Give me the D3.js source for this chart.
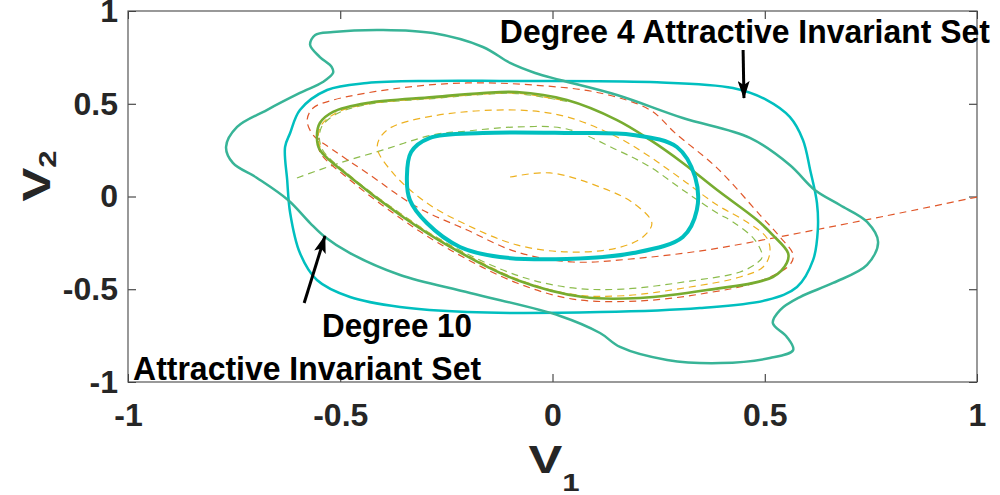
<!DOCTYPE html>
<html>
<head>
<meta charset="utf-8">
<script src="https://cdn.jsdelivr.net/npm/d3@7"></script>
<style>
  html, body { margin: 0; padding: 0; background: #fff; }
  svg { display: block; }
  text { font-family: "Liberation Sans", Arial, sans-serif; font-weight: bold; }
</style>
</head>
<body>
<div id="chart"></div>
<script>
"use strict"

// ticks
var xTicks = [-1, -0.5, 0, 0.5, 1];
var yTicks = [-1, -0.5, 0, 0.5, 1];

// degree 10 attractive invariant set (closed)
var deg10Set = [
  [-0.571, 0.817], [-0.559, 0.871], [-0.517, 0.887], [-0.399, 0.898], [-0.282, 0.881],
  [-0.164, 0.806], [-0.100, 0.720], [-0.041, 0.666], [0.018, 0.628], [0.152, 0.547],
  [0.307, 0.423], [0.465, 0.316], [0.559, 0.170], [0.618, 0.035], [0.677, -0.046],
  [0.741, -0.137], [0.767, -0.245], [0.741, -0.369], [0.661, -0.466], [0.583, -0.542],
  [0.536, -0.612], [0.519, -0.682], [0.552, -0.757], [0.567, -0.827], [0.512, -0.871],
  [0.395, -0.898], [0.270, -0.881], [0.159, -0.811], [0.112, -0.736], [0.018, -0.644],
  [-0.194, -0.520], [-0.359, -0.423], [-0.477, -0.305], [-0.536, -0.218], [-0.571, -0.143],
  [-0.623, -0.019], [-0.696, 0.100], [-0.753, 0.181], [-0.769, 0.267], [-0.743, 0.375],
  [-0.673, 0.466], [-0.595, 0.558], [-0.541, 0.617], [-0.517, 0.666], [-0.520, 0.698],
  [-0.548, 0.752]
];

// degree 4 attractive invariant set (closed)
var deg4Set = [
  [-0.630, 0.267], [-0.618, 0.342], [-0.595, 0.466], [-0.531, 0.574], [-0.437, 0.612],
  [-0.282, 0.623], [-0.124, 0.623], [0.230, 0.617], [0.425, 0.585], [0.505, 0.520],
  [0.559, 0.429], [0.590, 0.305], [0.607, 0.143], [0.623, -0.035], [0.625, -0.181],
  [0.614, -0.342], [0.576, -0.488], [0.505, -0.558], [0.347, -0.601], [0.112, -0.623],
  [-0.201, -0.623], [-0.359, -0.596], [-0.477, -0.542], [-0.555, -0.450], [-0.595, -0.305],
  [-0.618, -0.089], [-0.625, 0.089]
];

// inner set (closed, thick)
var innerSet = [
  [-0.343, 0.105], [-0.333, 0.240], [-0.290, 0.315], [-0.164, 0.342], [0.034, 0.342],
  [0.190, 0.332], [0.293, 0.267], [0.336, 0.105], [0.340, -0.073], [0.307, -0.218],
  [0.190, -0.305], [0.034, -0.337], [-0.124, -0.326], [-0.218, -0.272], [-0.296, -0.143],
  [-0.336, -0.019]
];

// limit cycle (closed)
var limitCycle = [
  [-0.555, 0.321], [-0.548, 0.396], [-0.517, 0.456], [-0.437, 0.504], [-0.282, 0.536],
  [-0.164, 0.558], [-0.084, 0.563], [0.034, 0.520], [0.152, 0.412], [0.230, 0.305],
  [0.307, 0.181], [0.388, 0.035], [0.482, -0.127], [0.519, -0.208], [0.555, -0.305],
  [0.552, -0.358], [0.519, -0.434], [0.364, -0.504], [0.206, -0.547], [0.072, -0.542],
  [-0.084, -0.450], [-0.241, -0.272], [-0.359, -0.100], [-0.477, 0.105], [-0.548, 0.251]
];

// trajectories (open)
var trajRed = [
  [1.000, -0.003], [0.819, -0.089], [0.677, -0.154], [0.519, -0.224], [0.364, -0.288],
  [0.206, -0.332], [0.048, -0.353], [-0.084, -0.299], [-0.201, -0.181], [-0.319, -0.057],
  [-0.437, 0.127], [-0.517, 0.251], [-0.564, 0.332], [-0.578, 0.412], [-0.564, 0.477],
  [-0.517, 0.520], [-0.359, 0.585], [-0.201, 0.612], [-0.046, 0.601], [0.112, 0.558],
  [0.230, 0.466], [0.290, 0.340], [0.388, 0.153], [0.489, -0.100], [0.536, -0.218],
  [0.567, -0.315], [0.559, -0.369], [0.482, -0.461], [0.364, -0.520], [0.206, -0.563],
  [0.048, -0.553], [-0.084, -0.466], [-0.241, -0.288], [-0.359, -0.116], [-0.477, 0.089],
  [-0.548, 0.240], [-0.552, 0.316]
];

var trajYellow = [
  [-0.100, 0.105], [-0.006, 0.127], [0.112, 0.051], [0.190, -0.035], [0.234, -0.143],
  [0.213, -0.218], [0.152, -0.278], [0.034, -0.299], [-0.084, -0.261], [-0.201, -0.154],
  [-0.296, -0.035], [-0.376, 0.127], [-0.413, 0.267], [-0.390, 0.358], [-0.282, 0.434],
  [-0.084, 0.466], [0.034, 0.429], [0.152, 0.321], [0.230, 0.213], [0.307, 0.089],
  [0.388, -0.046], [0.458, -0.137], [0.505, -0.224], [0.512, -0.305], [0.496, -0.380],
  [0.442, -0.434], [0.324, -0.488], [0.166, -0.535], [0.048, -0.528], [-0.084, -0.444],
  [-0.241, -0.265], [-0.359, -0.093], [-0.477, 0.110], [-0.546, 0.258], [-0.548, 0.370],
  [-0.512, 0.448], [-0.437, 0.498], [-0.282, 0.530], [-0.164, 0.552], [-0.084, 0.557],
  [0.034, 0.514]
];

var trajGreen = [
  [-0.602, 0.100], [-0.501, 0.181], [-0.399, 0.251], [-0.282, 0.332], [-0.201, 0.353],
  [-0.084, 0.375], [0.034, 0.364], [0.152, 0.251], [0.230, 0.159], [0.307, 0.035],
  [0.388, -0.089], [0.425, -0.137], [0.477, -0.235], [0.494, -0.326], [0.482, -0.358],
  [0.442, -0.407], [0.324, -0.456], [0.166, -0.499], [0.048, -0.493], [-0.077, -0.430],
  [-0.241, -0.262], [-0.359, -0.090], [-0.477, 0.112], [-0.544, 0.262], [-0.545, 0.370],
  [-0.508, 0.446], [-0.437, 0.496], [-0.282, 0.528], [-0.164, 0.550], [-0.084, 0.555],
  [0.034, 0.512]
];

// annotations
var arrows = [
  {from: [0.449, 0.790], to: [0.451, 0.531]},
  {from: [-0.585, -0.574], to: [-0.536, -0.213]}
];
var labels = [
  {text: "Degree 4 Attractive Invariant Set", at: [-0.124, 0.827], len: 490},
  {text: "Degree 10", at: [-0.543, -0.757], len: 150},
  {text: "Attractive Invariant Set", at: [-0.988, -0.989], len: 348}
];

var W = 1000, H = 495,
    padL = 128, padR = 977, padT = 11, padB = 382;

var svg = d3.select("#chart").append("svg")
    .attr("width", W).attr("height", H);

var x = d3.scaleLinear().domain([-1, 1]).range([padL, padR]);
var y = d3.scaleLinear().domain([-1, 1]).range([padB, padT]);

var fmt = function(d){ return String(d); };

//axes, ticks pointing in
svg.append("g").attr("transform", "translate(0," + padB + ")")
    .call(d3.axisBottom(x).tickValues(xTicks).tickSizeInner(-8).tickSizeOuter(0).tickPadding(21).tickFormat(fmt));
svg.append("g").attr("transform", "translate(" + padL + ",0)")
    .call(d3.axisLeft(y).tickValues(yTicks).tickSizeInner(-8).tickSizeOuter(0).tickPadding(10).tickFormat(fmt));
svg.append("g").attr("transform", "translate(0," + padT + ")")
    .call(d3.axisTop(x).tickValues(xTicks).tickSizeInner(-8).tickSizeOuter(0).tickFormat(""));
svg.append("g").attr("transform", "translate(" + padR + ",0)")
    .call(d3.axisRight(y).tickValues(yTicks).tickSizeInner(-8).tickSizeOuter(0).tickFormat(""));

svg.selectAll(".domain").remove();
svg.selectAll(".tick line").attr("stroke", "#262626").attr("stroke-width", 1);
svg.selectAll(".tick text")
    .attr("fill", "#262626")
    .style("font-size", "32px")
    .style("font-family", "'Liberation Sans', Arial, sans-serif")
    .style("font-weight", "bold");

svg.append("rect")
    .attr("x", padL).attr("y", padT)
    .attr("width", padR - padL).attr("height", padB - padT)
    .attr("fill", "none").attr("stroke", "#555").attr("stroke-width", 1.2);

//curves
var lineClosed = d3.line().x(function(d){ return x(d[0]); }).y(function(d){ return y(d[1]); })
    .curve(d3.curveCatmullRomClosed.alpha(0.5));
var lineOpen = d3.line().x(function(d){ return x(d[0]); }).y(function(d){ return y(d[1]); })
    .curve(d3.curveCatmullRom.alpha(0.5));

var g = svg.append("g").attr("fill", "none").attr("stroke-linejoin", "round");

g.append("path").attr("d", lineOpen(trajGreen))
    .attr("stroke", "#8cbc4c").attr("stroke-width", 1.2).attr("stroke-dasharray", "7,5");
g.append("path").attr("d", lineOpen(trajYellow))
    .attr("stroke", "#edb120").attr("stroke-width", 1.2).attr("stroke-dasharray", "7,5");
g.append("path").attr("d", lineOpen(trajRed))
    .attr("stroke", "#e0572a").attr("stroke-width", 1.2).attr("stroke-dasharray", "7,5");
g.append("path").attr("d", lineClosed(limitCycle))
    .attr("stroke", "#77ac30").attr("stroke-width", 2.6);
g.append("path").attr("d", lineClosed(innerSet))
    .attr("stroke", "#00bfbf").attr("stroke-width", 4);
g.append("path").attr("d", lineClosed(deg4Set))
    .attr("stroke", "#00bfbf").attr("stroke-width", 2.5);
g.append("path").attr("d", lineClosed(deg10Set))
    .attr("stroke", "#38b497").attr("stroke-width", 2.5);

//arrows
svg.append("defs").append("marker")
    .attr("id", "head")
    .attr("markerUnits", "userSpaceOnUse")
    .attr("viewBox", "0 0 18 12")
    .attr("refX", 17).attr("refY", 6)
    .attr("markerWidth", 18).attr("markerHeight", 12)
    .attr("orient", "auto")
  .append("path")
    .attr("d", "M0,0 L18,6 L0,12 L4,6 Z")
    .attr("fill", "#000");

svg.selectAll(".arrow").data(arrows).enter().append("line")
    .attr("class", "arrow")
    .attr("x1", function(d){ return x(d.from[0]); })
    .attr("y1", function(d){ return y(d.from[1]); })
    .attr("x2", function(d){ return x(d.to[0]); })
    .attr("y2", function(d){ return y(d.to[1]); })
    .attr("stroke", "#000").attr("stroke-width", 3)
    .attr("marker-end", "url(#head)");

svg.selectAll(".note").data(labels).enter().append("text")
    .attr("class", "note")
    .attr("x", function(d){ return x(d.at[0]); })
    .attr("y", function(d){ return y(d.at[1]); })
    .attr("textLength", function(d){ return d.len; })
    .attr("lengthAdjust", "spacingAndGlyphs")
    .style("font-size", "33px")
    .attr("fill", "#000")
    .text(function(d){ return d.text; });

//axis titles, drawn a bit wide like the original
var xt = svg.append("text")
    .attr("transform", "translate(554,473) scale(1.3,1)")
    .attr("text-anchor", "middle")
    .attr("fill", "#262626")
    .style("font-size", "39px");
xt.append("tspan").text("V");
xt.append("tspan").attr("dy", 18).style("font-size", "24px").text("1");

var yt = svg.append("text")
    .attr("transform", "translate(50,176) rotate(-90) scale(1.3,1)")
    .attr("text-anchor", "middle")
    .attr("fill", "#262626")
    .style("font-size", "39px");
yt.append("tspan").text("V");
yt.append("tspan").attr("dy", 6).style("font-size", "24px").text("2");
</script>
</body>
</html>
